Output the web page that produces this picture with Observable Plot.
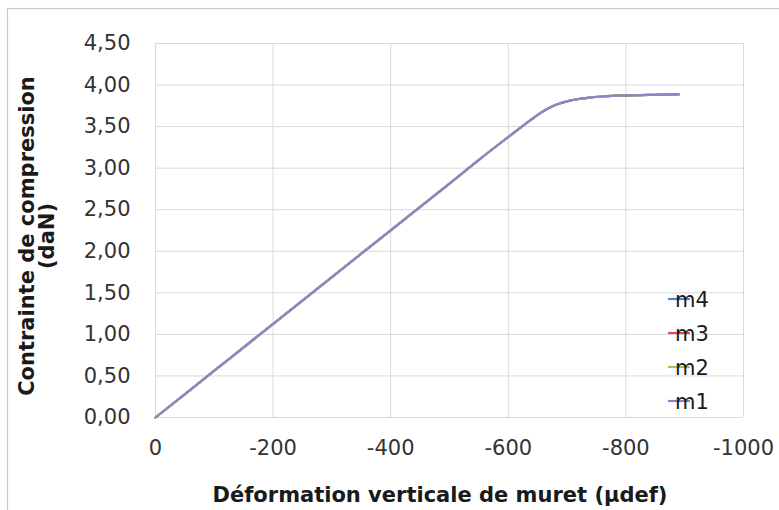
<!DOCTYPE html>
<html>
<head>
<meta charset="utf-8">
<script src="https://cdn.jsdelivr.net/npm/d3@7"></script>
<script src="https://cdn.jsdelivr.net/npm/@observablehq/plot@0.6"></script>
<style>
  html, body { margin: 0; padding: 0; background: #fff; }
  #chart { position: relative; width: 779px; height: 510px; }
</style>
</head>
<body>
<div id="chart"></div>
<script>
// ---- data ----
const deformation = [0, -100, -200, -300, -400, -500, -550, -600, -640, -655, -670, -685, -700, -715, -735, -760, -800, -850, -890];
const m1 = [0, 0.563, 1.126, 1.689, 2.252, 2.815, 3.10, 3.375, 3.59, 3.665, 3.728, 3.772, 3.803, 3.826, 3.846, 3.862, 3.875, 3.883, 3.888];
const m2 = [0, 0.563, 1.126, 1.689, 2.252, 2.815, 3.10, 3.375, 3.59, 3.665, 3.728, 3.772, 3.803, 3.826, 3.846, 3.862, 3.875, 3.883, 3.888];
const m3 = [0, 0.563, 1.126, 1.689, 2.252, 2.815, 3.10, 3.375, 3.59, 3.665, 3.728, 3.772, 3.803, 3.826, 3.846, 3.862, 3.875, 3.883, 3.888];
const m4 = [0, 0.563, 1.126, 1.689, 2.252, 2.815, 3.10, 3.375, 3.59, 3.665, 3.728, 3.772, 3.803, 3.826, 3.846, 3.862, 3.875, 3.883, 3.888];

const seriesNames = ["m4", "m3", "m2", "m1"];
const seriesValues = [m4, m3, m2, m1];
const seriesColors = ["#4a86d0", "#e04b4b", "#9bc55a", "#9381c9"];

const xTicks = [0, -200, -400, -600, -800, -1000];
const xTickLabels = ["0", "-200", "-400", "-600", "-800", "-1000"];
const yTicks = [0, 0.5, 1, 1.5, 2, 2.5, 3, 3.5, 4, 4.5];
const yTickLabels = ["0,00", "0,50", "1,00", "1,50", "2,00", "2,50", "3,00", "3,50", "4,00", "4,50"];

const xTitle = "Déformation verticale de muret (µdef)";
const yTitleLines = ["Contrainte de compression", "(daN)"];

// ---- build rows ----
const rows = [];
seriesNames.forEach((name, s) => {
  deformation.forEach((x, i) => rows.push({series: name, x, y: seriesValues[s][i]}));
});

const W = 779, H = 510;
const plot = Plot.plot({
  width: W,
  height: H,
  marginLeft: 155,
  marginRight: 36,
  marginTop: 43,
  marginBottom: 93,
  style: {fontFamily: "DejaVu Sans", fontSize: "21px", color: "#333", background: "#fff", overflow: "visible"},
  x: {domain: [0, -1000]},
  y: {domain: [0, 4.5]},
  color: {domain: seriesNames, range: seriesColors},
  marks: [
    Plot.gridY(yTicks, {stroke: "#d9d9d9", strokeOpacity: 1, strokeWidth: 1}),
    Plot.gridX(xTicks, {stroke: "#d9d9d9", strokeOpacity: 1, strokeWidth: 1}),
    Plot.axisY(yTicks, {tickSize: 0, tickPadding: 25, label: null,
      tickFormat: d => yTickLabels[yTicks.indexOf(d)], fill: "#333"}),
    Plot.axisX(xTicks, {tickSize: 0, tickPadding: 23, label: null,
      tickFormat: d => xTickLabels[xTicks.indexOf(d)], fill: "#333"}),
    Plot.line(rows, {x: "x", y: "y", z: "series", stroke: "series", strokeWidth: 2.2, curve: "catmull-rom"})
  ]
});

document.getElementById("chart").appendChild(plot);

// ---- decorations: chart border, titles, legend ----
const svg = d3.select(plot);
svg.insert("rect", ":first-child")
  .attr("x", 7.5).attr("y", 8.5).attr("width", 820).attr("height", 600)
  .attr("fill", "none").attr("stroke", "#c8c8c8").attr("stroke-width", 1.2);

svg.append("text")
  .attr("x", 440).attr("y", 502)
  .attr("text-anchor", "middle")
  .attr("font-family", "DejaVu Sans").attr("font-weight", "bold").attr("font-size", 21)
  .attr("fill", "#1a1a1a")
  .text(xTitle);

const yt = svg.append("text")
  .attr("transform", "translate(34,236) rotate(-90)")
  .attr("text-anchor", "middle")
  .attr("font-family", "DejaVu Sans").attr("font-weight", "bold").attr("font-size", 21)
  .attr("fill", "#1a1a1a");
yt.append("tspan").attr("x", 0).attr("y", 0).text(yTitleLines[0]);
yt.append("tspan").attr("x", 0).attr("y", 20).text(yTitleLines[1]);

const lg = svg.append("g");
seriesNames.forEach((name, i) => {
  const cy = 299 + 34 * i;
  lg.append("line").attr("x1", 668).attr("x2", 690).attr("y1", cy).attr("y2", cy)
    .attr("stroke", seriesColors[i]).attr("stroke-width", 2.2);
  lg.append("text").attr("x", 692).attr("y", cy).attr("dy", "0.36em")
    .attr("font-family", "DejaVu Sans").attr("font-size", 21).attr("fill", "#1a1a1a")
    .text(name);
});
</script>
</body>
</html>
